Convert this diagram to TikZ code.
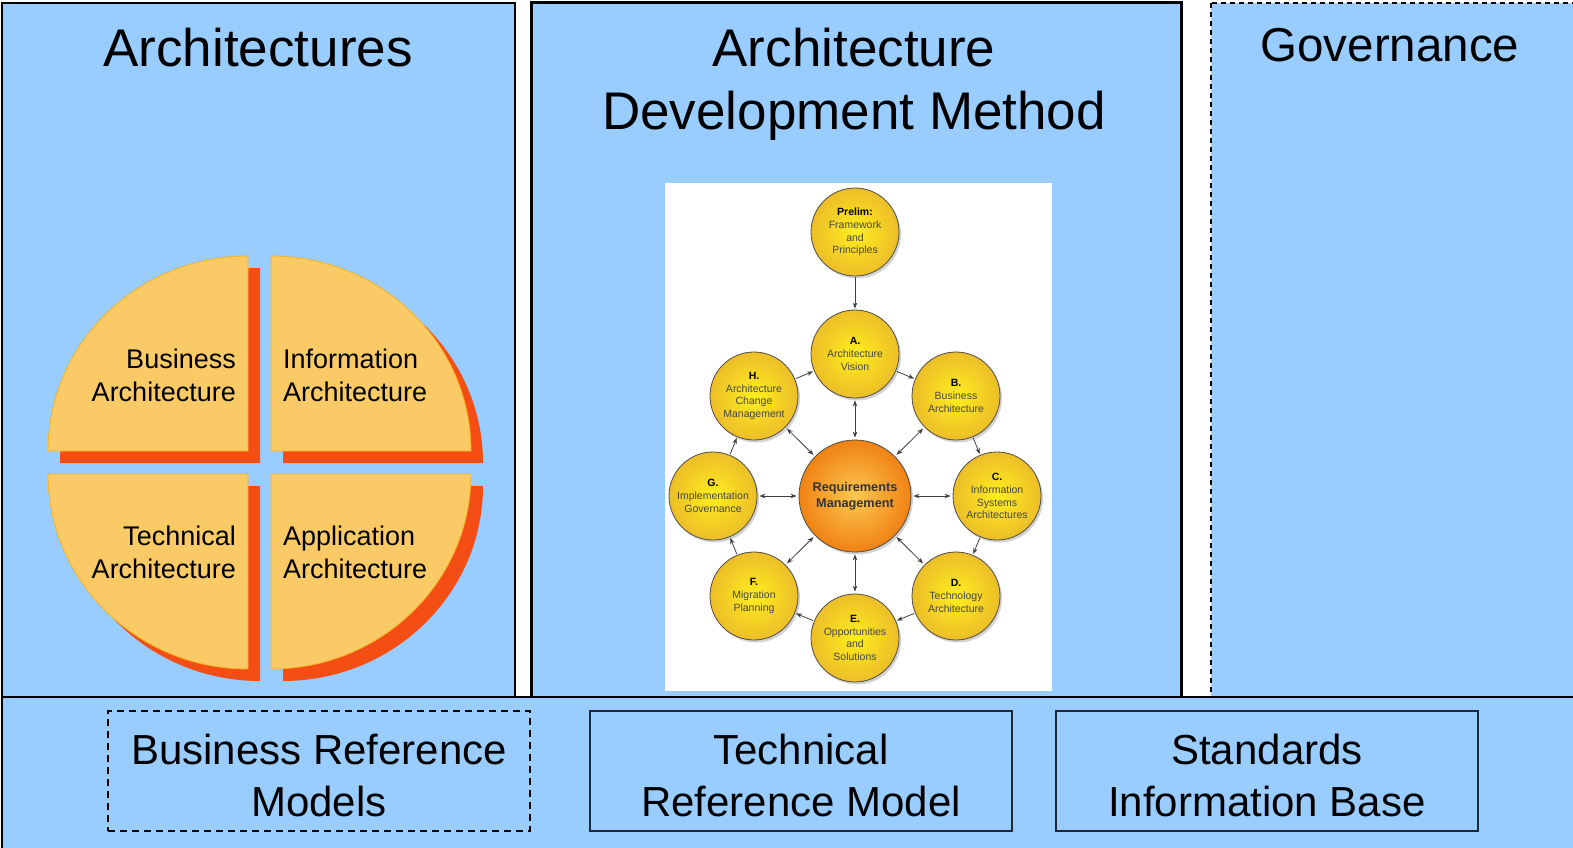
\documentclass[tikz,border=0pt]{standalone}
\usepackage{fontspec}
\setmainfont{Liberation Sans}
\usetikzlibrary{shadows,arrows.meta}

\definecolor{panelblue}{RGB}{153,204,255}
\definecolor{quadfill}{RGB}{250,202,102}
\definecolor{quadline}{RGB}{245,178,30}
\definecolor{quadshadow}{RGB}{244,78,20}
\definecolor{phasein}{RGB}{255,238,30}
\definecolor{phaseout}{RGB}{236,190,40}
\definecolor{reqin}{RGB}{252,200,80}
\definecolor{reqout}{RGB}{240,130,20}
\definecolor{admtext}{RGB}{70,70,70}
\definecolor{boxline}{RGB}{30,40,55}

\tikzset{
  panel/.style={fill=panelblue, draw=black, line width=1.5pt},
  bigtitle/.style={font=\fontsize{53}{62}\selectfont, anchor=base, inner sep=0pt},
  quadrant/.style={fill=quadfill, draw=quadline, line width=0.8pt},
  quadshade/.style={fill=quadshadow},
  quadlabel/.style={font=\fontsize{27}{33}\selectfont, inner sep=0pt},
  refbox/.style={draw=boxline, line width=1.5pt, minimum width=422pt,
    minimum height=120pt},
  reftext/.style={align=center, font=\fontsize{42}{52}\selectfont},
  phase/.style={circle, draw=black!70, line width=0.8pt, minimum size=88pt,
    inner sep=0pt, inner color=phasein, outer color=phaseout,
    drop shadow={shadow xshift=2pt, shadow yshift=-2.5pt, opacity=0.35},
    align=center, text=admtext, font=\fontsize{10.5}{12.8}\selectfont},
  reqphase/.style={phase, minimum size=112pt, inner color=reqin,
    outer color=reqout, text=black!80, font=\fontsize{12.7}{15.5}\selectfont\bfseries},
  ring arrow/.style={-{Stealth[length=6pt,width=4.5pt]}, draw=black!75,
    line width=0.8pt, shorten >=1pt, shorten <=1pt},
  req arrow/.style={{Stealth[length=6pt,width=4.5pt]}-{Stealth[length=6pt,width=4.5pt]},
    draw=black!75, line width=0.8pt, shorten >=2pt, shorten <=2pt},
}

\begin{document}
\begin{tikzpicture}[x=1pt,y=-1pt]
  \useasboundingbox (0,0) rectangle (1573,848);
  \clip (0,0) rectangle (1573,848);
  % three columns and the bottom strip
  \draw[panel] (2,3) rectangle (515,697);
  \draw[panel, line width=3pt] (531,3) rectangle (1181,697);
  \draw[panel, dash pattern=on 5pt off 4pt] (1211,3) rectangle (1600,697);
  \draw[panel, line width=2pt] (2,697) rectangle (1600,870);

  \node[bigtitle] (archtitle) at (258,67) {Architectures};
  \node[bigtitle] (admtitle) at (854,67) {Architecture};
  \node[bigtitle] (admtitle2) at (854,129) {Development Method};
  \node[bigtitle, font=\fontsize{47.5}{56}\selectfont] (govtitle) at (1390,62) {Governance};

  % the four quarters, shadow first
  \foreach \cx/\cy/\sa in {248/451/180, 271/451/270, 248/474/90, 271/474/0}
    \fill[quadshade, shift={(12,12)}] (\cx,\cy) -- ++({200*cos(\sa)},{195*sin(\sa)})
      arc[start angle=\sa, delta angle=90, x radius=200, y radius=195] -- cycle;
  \foreach \cx/\cy/\sa in {248/451/180, 271/451/270, 248/474/90, 271/474/0}
    \draw[quadrant] (\cx,\cy) -- ++({200*cos(\sa)},{195*sin(\sa)})
      arc[start angle=\sa, delta angle=90, x radius=200, y radius=195] -- cycle;

  \node[quadlabel, anchor=east, align=right] (bizlabel) at (236,375) {Business\\Architecture};
  \node[quadlabel, anchor=west, align=left] (infolabel) at (283,375) {Information\\Architecture};
  \node[quadlabel, anchor=east, align=right] (techlabel) at (236,552) {Technical\\Architecture};
  \node[quadlabel, anchor=west, align=left] (applabel) at (283,552) {Application\\Architecture};

  % ADM cycle
  \fill[white] (665,183) rectangle (1052,691);
  \node[phase] (prelim) at (855,232) {{\color{black}\bfseries Prelim:}\\Framework\\and\\Principles};
  \node[reqphase] (req) at (855,496) {Requirements\\Management};
  \node[phase] (pA) at (855,354) {{\color{black}\bfseries A.}\\Architecture\\Vision};
  \node[phase] (pB) at (956,396) {{\color{black}\bfseries B.}\\Business\\Architecture};
  \node[phase] (pC) at (997,496) {{\color{black}\bfseries C.}\\Information\\Systems\\Architectures};
  \node[phase] (pD) at (956,596) {{\color{black}\bfseries D.}\\Technology\\Architecture};
  \node[phase] (pE) at (855,638) {{\color{black}\bfseries E.}\\Opportunities\\and\\Solutions};
  \node[phase] (pF) at (754,596) {{\color{black}\bfseries F.}\\Migration\\Planning};
  \node[phase] (pG) at (713,496) {{\color{black}\bfseries G.}\\Implementation\\Governance};
  \node[phase] (pH) at (754,396) {{\color{black}\bfseries H.}\\Architecture\\Change\\Management};

  \draw[ring arrow] (prelim) -- (pA);
  \foreach \a/\b in {pA/pB, pB/pC, pC/pD, pD/pE, pE/pF, pF/pG, pG/pH, pH/pA}
    \draw[ring arrow] (\a) -- (\b);
  \foreach \p in {pA, pB, pC, pD, pE, pF, pG, pH}
    \draw[req arrow] (req) -- (\p);

  % reference libraries
  \node[refbox, draw=black, line width=1.8pt, dash pattern=on 7pt off 5pt] (brm) at (319,771) {};
  \node[refbox] (trm) at (801,771) {};
  \node[refbox] (sib) at (1267,771) {};
  \node[reftext] (brmtext) at ([yshift=-4pt]brm.center) {Business Reference\\Models};
  \node[reftext] (trmtext) at ([yshift=-4pt]trm.center) {Technical\\Reference Model};
  \node[reftext] (sibtext) at ([yshift=-4pt]sib.center) {Standards\\Information Base};
\end{tikzpicture}
\end{document}
